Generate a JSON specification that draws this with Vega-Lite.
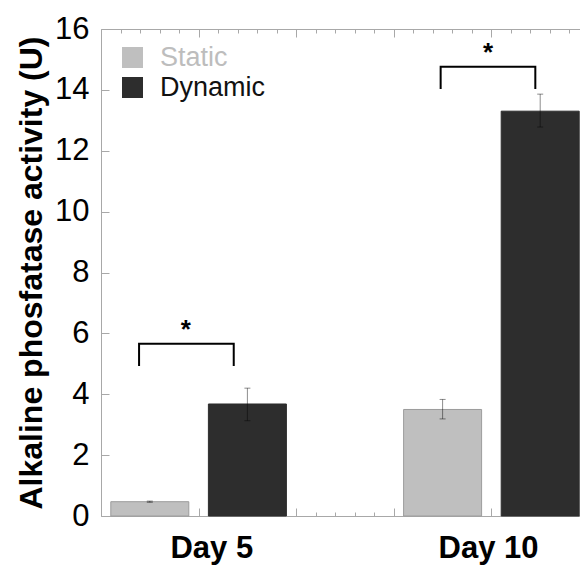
{
  "$schema": "https://vega.github.io/schema/vega-lite/v6.json",
  "width": 488,
  "height": 487,
  "autosize": {"type": "none"},
  "padding": {"left": 101, "top": 29, "right": 0, "bottom": 52},
  "config": {
    "view": {"stroke": null},
    "font": "Liberation Sans",
    "axis": {"domainColor": "#a8a8a8", "tickColor": "#a8a8a8", "grid": false, "labelColor": "#000"}
  },
  "datasets": {
    "bars": [
      {"day": "Day 5", "group": "Static", "x": 0.5, "value": 0.47, "lo": 0.45, "hi": 0.49},
      {"day": "Day 5", "group": "Dynamic", "x": 1.5, "value": 3.68, "lo": 3.13, "hi": 4.2},
      {"day": "Day 10", "group": "Static", "x": 3.5, "value": 3.5, "lo": 3.19, "hi": 3.83},
      {"day": "Day 10", "group": "Dynamic", "x": 4.5, "value": 13.3, "lo": 12.78, "hi": 13.86}
    ],
    "brackets": [
      {"b": "Day 5", "o": 1, "x": 0.39, "y": 4.96},
      {"b": "Day 5", "o": 2, "x": 0.39, "y": 5.66},
      {"b": "Day 5", "o": 3, "x": 1.36, "y": 5.66},
      {"b": "Day 5", "o": 4, "x": 1.36, "y": 4.96},
      {"b": "Day 10", "o": 1, "x": 3.48, "y": 14.06},
      {"b": "Day 10", "o": 2, "x": 3.48, "y": 14.76},
      {"b": "Day 10", "o": 3, "x": 4.45, "y": 14.76},
      {"b": "Day 10", "o": 4, "x": 4.45, "y": 14.06}
    ],
    "stars": [
      {"x": 0.87, "y": 6.3, "t": "*"},
      {"x": 3.965, "y": 15.4, "t": "*"}
    ]
  },
  "layer": [
    {
      "data": {"name": "bars"},
      "mark": {"type": "bar", "width": 78, "strokeWidth": 1,
        "stroke": {"expr": "datum.group === 'Static' ? '#9c9c9c' : '#2d2d2d'"}},
      "encoding": {
        "x": {
          "field": "x", "type": "quantitative",
          "scale": {"domain": [0, 5], "nice": false, "zero": false, "padding": 0},
          "axis": {
            "orient": "bottom", "title": null,
            "values": [0, 0.2, 0.4, 0.6, 0.8, 1, 1.2, 1.4, 1.6, 1.8, 2, 2.2, 2.4, 2.6, 2.8, 3, 3.2, 3.4, 3.6, 3.8, 4, 4.2, 4.4, 4.6, 4.8, 5, 1.13, 3.965],
            "labelExpr": "datum.value == 1.13 ? 'Day 5' : (datum.value == 3.965 ? 'Day 10' : '')",
            "labelFontSize": 31, "labelFontWeight": "bold", "labelPadding": 21,
            "labelBaseline": "top", "labelAlign": "center", "labelFlush": false, "labelOverlap": false,
            "tickSize": {"condition": {"test": "abs(datum.value - round(datum.value)) < 0.001", "value": -8}, "value": -4},
            "tickOpacity": {"condition": {"test": "datum.value == 1.13 || datum.value == 3.965", "value": 0}, "value": 1}
          }
        },
        "y": {
          "field": "value", "type": "quantitative",
          "scale": {"domain": [0, 16], "nice": false, "padding": 0},
          "axis": {
            "orient": "left",
            "title": "Alkaline phosfatase activity (U)",
            "titleFontSize": 32, "titleFontWeight": "bold", "titleColor": "#000", "titlePadding": 6,
            "values": [0, 0.5, 1, 1.5, 2, 2.5, 3, 3.5, 4, 4.5, 5, 5.5, 6, 6.5, 7, 7.5, 8, 8.5, 9, 9.5, 10, 10.5, 11, 11.5, 12, 12.5, 13, 13.5, 14, 14.5, 15, 15.5, 16],
            "labelExpr": "datum.value % 2 === 0 ? datum.label : ''",
            "labelFontSize": 31, "labelPadding": 20, "labelFlush": false, "labelOverlap": false,
            "tickSize": {"condition": {"test": "datum.value % 2 === 0", "value": -8}, "value": -4}
          }
        },
        "color": {
          "field": "group", "type": "nominal",
          "scale": {"domain": ["Static", "Dynamic"], "range": ["#bfbfbf", "#2d2d2d"]},
          "legend": {
            "title": null, "orient": "none", "legendX": 18, "legendY": 15,
            "symbolType": "square", "symbolSize": 441, "symbolStrokeWidth": 0,
            "labelFontSize": 27, "labelOffset": 14, "rowPadding": 2, "padding": 0,
            "labelColor": {"expr": "datum.label === 'Static' ? '#bdbdbd' : '#111111'"}
          }
        }
      }
    },
    {
      "data": {"name": "bars"},
      "mark": {"type": "rule", "color": "#000", "opacity": 0.45, "strokeWidth": 1},
      "encoding": {
        "x": {
          "field": "x", "type": "quantitative",
          "axis": {
            "orient": "top", "title": null, "labels": false,
            "values": [0, 0.2, 0.4, 0.6, 0.8, 1, 1.2, 1.4, 1.6, 1.8, 2, 2.2, 2.4, 2.6, 2.8, 3, 3.2, 3.4, 3.6, 3.8, 4, 4.2, 4.4, 4.6, 4.8, 5],
            "tickSize": {"condition": {"test": "abs(datum.value - round(datum.value)) < 0.001", "value": -8}, "value": -4}
          }
        },
        "y": {"field": "lo", "type": "quantitative"},
        "y2": {"field": "hi"}
      }
    },
    {
      "data": {"name": "bars"},
      "mark": {"type": "tick", "orient": "horizontal", "size": 6, "thickness": 1, "color": "#000", "opacity": 0.45},
      "encoding": {
        "x": {"field": "x", "type": "quantitative", "axis": null},
        "y": {"field": "lo", "type": "quantitative"}
      }
    },
    {
      "data": {"name": "bars"},
      "mark": {"type": "tick", "orient": "horizontal", "size": 6, "thickness": 1, "color": "#000", "opacity": 0.45},
      "encoding": {
        "x": {"field": "x", "type": "quantitative", "axis": null},
        "y": {"field": "hi", "type": "quantitative"}
      }
    },
    {
      "data": {"name": "brackets"},
      "mark": {"type": "line", "color": "#000", "strokeWidth": 2, "strokeCap": "square"},
      "encoding": {
        "x": {"field": "x", "type": "quantitative", "axis": null},
        "y": {"field": "y", "type": "quantitative"},
        "detail": {"field": "b"},
        "order": {"field": "o"}
      }
    },
    {
      "data": {"name": "stars"},
      "mark": {"type": "text", "fontSize": 26, "fontWeight": "bold", "baseline": "alphabetic", "align": "center", "dy": 14, "color": "#000"},
      "encoding": {
        "x": {"field": "x", "type": "quantitative", "axis": null},
        "y": {"field": "y", "type": "quantitative"},
        "text": {"field": "t"}
      }
    }
  ],
  "resolve": {"axis": {"x": "independent"}}
}
